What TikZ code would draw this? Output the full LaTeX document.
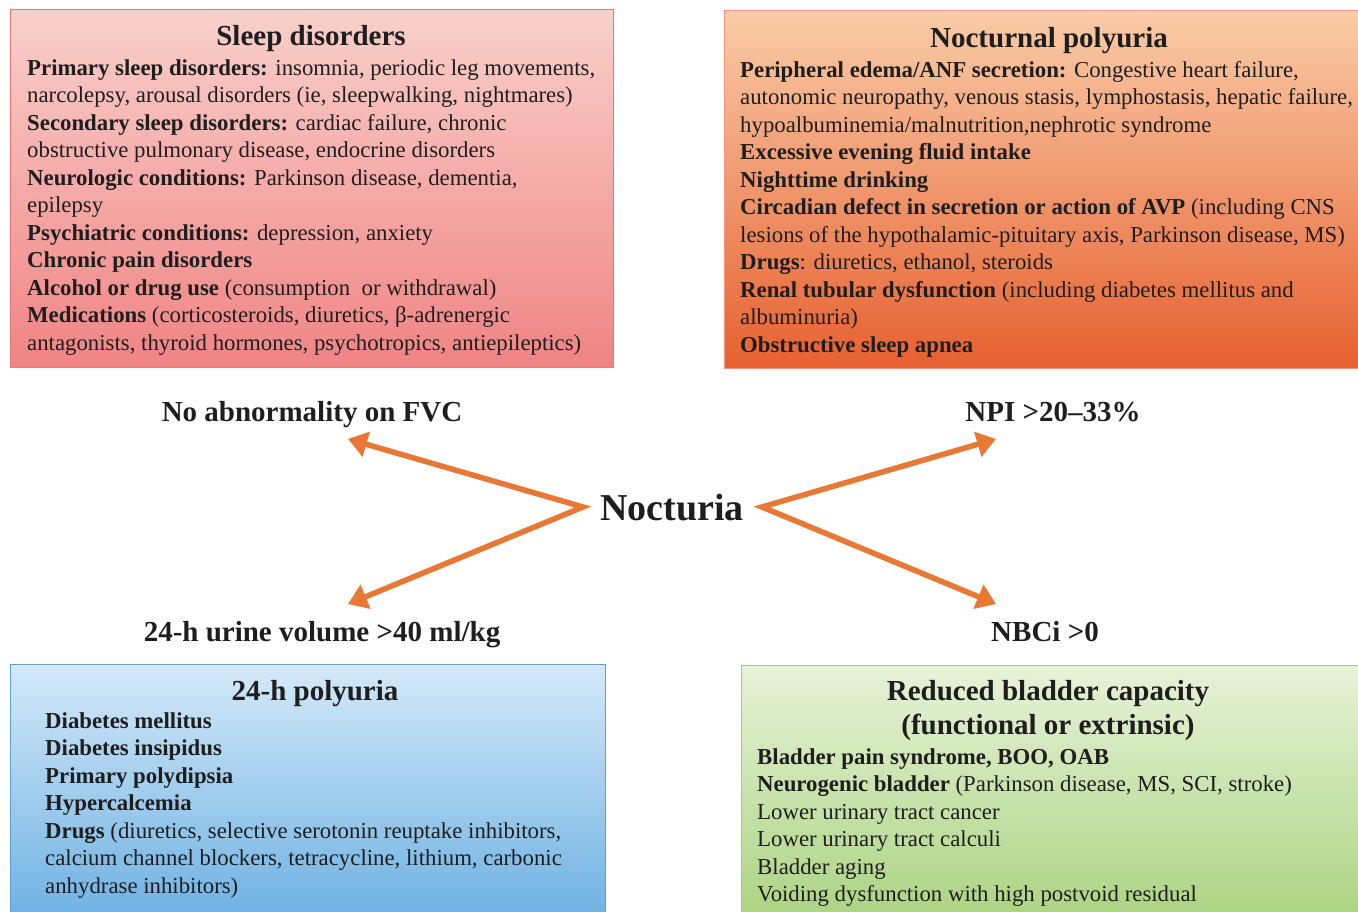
\documentclass[tikz,border=0pt]{standalone}
\usepackage{fontspec}
\setmainfont{Liberation Serif}
\usetikzlibrary{arrows.meta}
\definecolor{arrorange}{RGB}{232,120,52}
\definecolor{txt}{RGB}{30,30,30}
\begin{document}
\begin{tikzpicture}[x=1pt,y=-1pt,
  panel/.style={anchor=north west, inner sep=0pt, line width=0.8pt, shading angle=0},
  body/.style={anchor=north west, inner sep=0pt, align=left, text=txt,
    font=\fontsize{22.8}{27.5}\selectfont},
  ttl/.style={anchor=base, inner sep=0pt, align=center, text=txt,
    font=\bfseries\fontsize{29}{34}\selectfont},
  lbl/.style={anchor=base, inner sep=0pt, text=txt, font=\bfseries\fontsize{29}{32}\selectfont},
  arr/.style={draw=arrorange, line width=5.5pt, line join=miter,
    {Triangle[length=19pt,width=25pt]}-{Triangle[length=19pt,width=25pt]}},
  arrshadow/.style={arr, draw=black!30, opacity=0.35}
]
\useasboundingbox (0,0) rectangle (1358,912);

% panels
\node[panel, draw={rgb,255:red,226;green,120;blue,120}, top color={rgb,255:red,249;green,208;blue,203}, bottom color={rgb,255:red,240;green,132;blue,132},
  minimum width=603pt, minimum height=358pt] (p1) at (10,9) {};
\node[panel, draw={rgb,255:red,240;green,150;blue,130}, top color={rgb,255:red,249;green,204;blue,168}, bottom color={rgb,255:red,231;green,96;blue,48},
  minimum width=640pt, minimum height=358pt] (p2) at (724,10) {};
\node[panel, draw={rgb,255:red,96;green,160;blue,206}, top color={rgb,255:red,212;green,233;blue,249}, bottom color={rgb,255:red,108;green,176;blue,226},
  minimum width=595pt, minimum height=260pt] (p3) at (10,664) {};
\node[panel, draw={rgb,255:red,160;green,205;blue,124}, top color={rgb,255:red,231;green,242;blue,216}, bottom color={rgb,255:red,170;green,211;blue,128},
  minimum width=625pt, minimum height=260pt] (p4) at (741,665) {};

% titles
\node[ttl] (t1) at (311,46) {Sleep disorders};
\node[ttl] (t2) at (1049,48) {Nocturnal polyuria};
\node[ttl] (t3) at (315,700) {24-h polyuria};
\node[ttl] (t4) at (1048,734) {Reduced bladder capacity\\(functional or extrinsic)};

% bodies
\node[body] (b1) at (27,59) {%
\textbf{Primary sleep disorders:} insomnia, periodic leg movements,\\
narcolepsy, arousal disorders (ie, sleepwalking, nightmares)\\
\textbf{Secondary sleep disorders:} cardiac failure, chronic\\
obstructive pulmonary disease, endocrine disorders\\
\textbf{Neurologic conditions:} Parkinson disease, dementia,\\
epilepsy\\
\textbf{Psychiatric conditions:} depression, anxiety\\
\textbf{Chronic pain disorders}\\
\textbf{Alcohol or drug use} (consumption\ \ or withdrawal)\\
\textbf{Medications} (corticosteroids, diuretics, β-adrenergic\\
antagonists, thyroid hormones, psychotropics, antiepileptics)};

\node[body] (b2) at (740,61) {%
\textbf{Peripheral edema/ANF secretion:} Congestive heart failure,\\
autonomic neuropathy, venous stasis, lymphostasis, hepatic failure,\\
hypoalbuminemia/malnutrition,nephrotic syndrome\\
\textbf{Excessive evening fluid intake}\\
\textbf{Nighttime drinking}\\
\textbf{Circadian defect in secretion or action of AVP} (including CNS\\
lesions of the hypothalamic-pituitary axis, Parkinson disease, MS)\\
\textbf{Drugs}: diuretics, ethanol, steroids\\
\textbf{Renal tubular dysfunction} (including diabetes mellitus and\\
albuminuria)\\
\textbf{Obstructive sleep apnea}};

\node[body] (b3) at (45,712) {%
\textbf{Diabetes mellitus}\\
\textbf{Diabetes insipidus}\\
\textbf{Primary polydipsia}\\
\textbf{Hypercalcemia}\\
\textbf{Drugs} (diuretics, selective serotonin reuptake inhibitors,\\
calcium channel blockers, tetracycline, lithium, carbonic\\
anhydrase inhibitors)};

\node[body] (b4) at (757,748) {%
\textbf{Bladder pain syndrome, BOO, OAB}\\
\textbf{Neurogenic bladder} (Parkinson disease, MS, SCI, stroke)\\
Lower urinary tract cancer\\
Lower urinary tract calculi\\
Bladder aging\\
Voiding dysfunction with high postvoid residual};

% centre and labels
\node[inner sep=0pt, text=txt, font=\bfseries\fontsize{38}{42}\selectfont] (noc) at (672,508) {Nocturia};
\node[lbl] (l1) at (312,421) {No abnormality on FVC};
\node[lbl] (l2) at (1053,421) {NPI >20–33\%};
\node[lbl] (l3) at (322,641) {24-h urine volume >40 ml/kg};
\node[lbl] (l4) at (1045,641) {NBCi >0};

\coordinate (vl) at (583,507);
\coordinate (vr) at (762,507);
\coordinate (a1) at (348,439);
\coordinate (a2) at (996,439);
\coordinate (a3) at (348,604);
\coordinate (a4) at (996,604);

\begin{scope}[shift={(2,3)}]
\draw[arrshadow] (a1) -- (vl) -- (a3);
\draw[arrshadow] (a2) -- (vr) -- (a4);
\end{scope}
\draw[arr] (a1) -- (vl) -- (a3);
\draw[arr] (a2) -- (vr) -- (a4);
\end{tikzpicture}
\end{document}
